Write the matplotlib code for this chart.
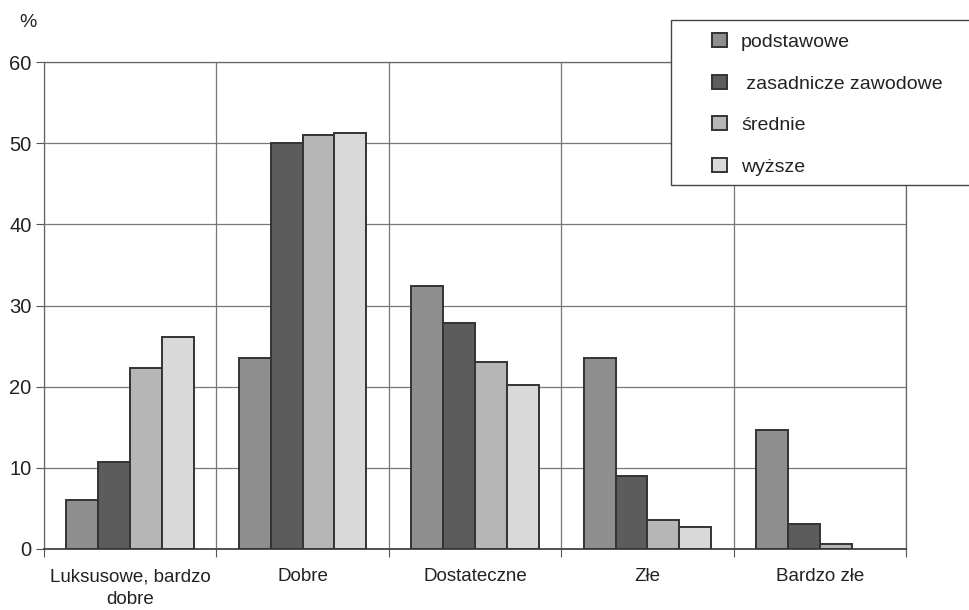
import numpy as np
import matplotlib.pyplot as plt
import matplotlib
from matplotlib.patches import Rectangle
matplotlib.rcParams.update({'font.size': 12, 'font.family': 'Liberation Sans'})

categories = ['Luksusowe, bardzo\ndobre', 'Dobre', 'Dostateczne', 'Złe', 'Bardzo złe']
series = ['podstawowe', ' zasadnicze zawodowe', 'średnie', 'wyższe']
podstawowe = [6.0, 23.6, 32.4, 23.6, 14.7]
zasadnicze = [10.7, 50.1, 27.8, 9.0, 3.1]
srednie = [22.3, 51.0, 23.0, 3.6, 0.6]
wyzsze = [26.1, 51.3, 20.2, 2.7, 0.0]

COLORS = ['#8e8e8e', '#5c5c5c', '#b6b6b6', '#d9d9d9']


def main():
    fig = plt.figure(figsize=(9.69, 6.10), dpi=100)
    ax = fig.add_axes([0.0454, 0.1, 0.935 - 0.0454, 0.798])

    x = np.arange(len(categories))
    w = 0.185
    for i, (vals, col, lbl) in enumerate(zip([podstawowe, zasadnicze, srednie, wyzsze], COLORS, series)):
        vals = np.array(vals)
        lw = np.where(vals > 0, 1.4, 0.0)
        ax.bar(x + (i - 1.5) * w, vals, width=w, color=col, edgecolor='#333333',
               linewidth=lw, label=lbl, zorder=3)

    ax.set_xlim(-0.5, len(categories) - 0.5)
    ax.set_ylim(0, 60)
    ax.set_yticks(range(0, 61, 10))
    ax.set_xticks(np.arange(len(categories) + 1) - 0.5)
    ax.set_xticklabels([])
    ax.tick_params(axis='x', length=6, color='#555555', direction='out')
    ax.tick_params(axis='y', length=6, color='#555555', direction='out', labelsize=14.5,
                   pad=3, labelcolor='#222222')
    ax.grid(axis='both', color='#777777', linewidth=0.9, zorder=0)
    for s in ax.spines.values():
        s.set_color('#666666')
        s.set_linewidth(0.9)
    ax.spines['bottom'].set_color('#444444')
    ax.spines['bottom'].set_linewidth(1.3)

    for xi, lbl in zip(x, categories):
        ax.text(xi, -2.4, lbl, ha='center', va='top', fontsize=13.5,
                color='#222222', linespacing=1.4)

    fig.text(0.020, 0.977, '%', fontsize=14, color='#222222', va='top')

    # legend box runs off the right edge, like the scan
    fig.patches.append(Rectangle((671 / 969, 1 - 185 / 610), 0.33, 165 / 610,
                                 transform=fig.transFigure, facecolor='white',
                                 edgecolor='#444444', linewidth=1.0, zorder=5))
    leg = fig.legend(loc='upper left', bbox_to_anchor=(712 / 969, 1 - 33 / 610),
                     frameon=False, fontsize=14,
                     handlelength=0.75, handleheight=0.75, labelspacing=1.22,
                     borderpad=0, handletextpad=0.75, borderaxespad=0)
    leg.set_zorder(6)
    for h in leg.legend_handles:
        h.set_edgecolor('#333333')
        h.set_linewidth(1.4)
    for t in leg.get_texts():
        t.set_color('#222222')

    fig.savefig('out.png', dpi=100)


if __name__ == '__main__':
    main()
